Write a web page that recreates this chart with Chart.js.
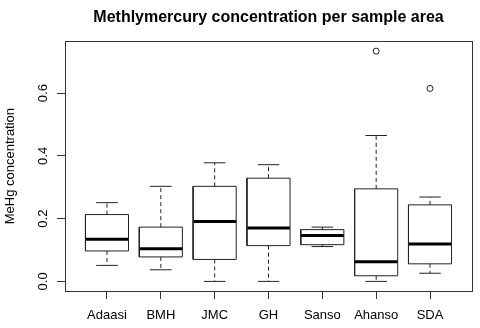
<!DOCTYPE html>
<html><head><meta charset="utf-8">
<script src="https://cdn.jsdelivr.net/npm/chart.js@4/dist/chart.umd.min.js"></script>
<style>html,body{margin:0;padding:0;background:#fff}</style>
</head><body>
<canvas id="c" width="480" height="328"></canvas>
<script>
const categories = ['Adaasi','BMH','JMC','GH','Sanso','Ahanso','SDA'];
const whiskerLow  = [0.051,0.037,0.000,0.000,0.111,0.000,0.026];
const q1          = [0.097,0.078,0.070,0.114,0.117,0.018,0.056];
const medians     = [0.134,0.104,0.191,0.170,0.146,0.063,0.119];
const q3          = [0.213,0.173,0.303,0.329,0.165,0.295,0.244];
const whiskerHigh = [0.251,0.303,0.378,0.372,0.173,0.465,0.269];
const outlierGroups = ['Ahanso','SDA'];
const outlierValues = [0.734,0.615];
const yTicks = [0, 0.2, 0.4, 0.6];
const yTickLabels = ['0.0','0.2','0.4','0.6'];

const BOX_HALF = 0.4, CAP_HALF = 0.2;
const LINE = '#222';
const gap = x => ({x: x, y: null});

const boxPts = [], medPts = [], whiskPts = [], capPts = [];
categories.forEach((c, i) => {
  const x = i + 1;
  boxPts.push({x:x-BOX_HALF,y:q1[i]},{x:x+BOX_HALF,y:q1[i]},{x:x+BOX_HALF,y:q3[i]},{x:x-BOX_HALF,y:q3[i]},{x:x-BOX_HALF,y:q1[i]},gap(x));
  medPts.push({x:x-BOX_HALF,y:medians[i]},{x:x+BOX_HALF,y:medians[i]},gap(x));
  whiskPts.push({x:x,y:q3[i]},{x:x,y:whiskerHigh[i]},gap(x),{x:x,y:q1[i]},{x:x,y:whiskerLow[i]},gap(x));
  capPts.push({x:x-CAP_HALF,y:whiskerHigh[i]},{x:x+CAP_HALF,y:whiskerHigh[i]},gap(x),{x:x-CAP_HALF,y:whiskerLow[i]},{x:x+CAP_HALF,y:whiskerLow[i]},gap(x));
});
const outPts = outlierGroups.map((g, k) => ({x: categories.indexOf(g) + 1, y: outlierValues[k]}));

const lineDs = (data, width, dash, color) => ({
  type: 'scatter', data, showLine: true, spanGaps: false, borderColor: color || LINE,
  borderWidth: width, borderDash: dash || [], pointRadius: 0, fill: false, borderCapStyle: 'butt'
});

const frame = {
  id: 'frame',
  afterDatasetsDraw(chart) {
    const a = chart.chartArea, ctx = chart.ctx;
    ctx.save(); ctx.strokeStyle = '#333'; ctx.lineWidth = 1;
    ctx.strokeRect(Math.round(a.left)+0.5, Math.round(a.top)+0.5, Math.round(a.right-a.left), Math.round(a.bottom-a.top));
    ctx.restore();
  }
};

Chart.defaults.font.family = '"Liberation Sans", Arial, sans-serif';
Chart.defaults.color = '#000';

new Chart(document.getElementById('c'), {
  type: 'scatter',
  data: { datasets: [
    lineDs(whiskPts, 1, [4,3]),
    lineDs(capPts, 1),
    lineDs(boxPts, 1),
    lineDs(medPts, 3, [], '#000'),
    { type:'scatter', data: outPts, pointRadius: 3, pointStyle: 'circle', borderColor: LINE, borderWidth: 1, backgroundColor: 'rgba(0,0,0,0)' }
  ]},
  options: {
    responsive: false, animation: false,
    layout: { padding: { left: 0, right: 8, top: 0, bottom: 0 } },
    plugins: {
      legend: { display: false }, tooltip: { enabled: false },
      title: { display: true, text: 'Methlymercury concentration per sample area', fullSize: false,
        font: { size: 16, weight: 'bold' }, padding: { top: 8, bottom: 14 }, color: '#000' }
    },
    scales: {
      x: { type: 'linear', min: 0.22, max: 7.78,
        afterBuildTicks: s => { s.ticks = categories.map((c, i) => ({value: i + 1})); },
        afterFit: s => { s.height = 37; },
        ticks: { callback: (v, i) => categories[i], autoSkip: false, maxRotation: 0, font: { size: 13 }, padding: 9 },
        grid: { drawOnChartArea: false, drawTicks: true, tickLength: 8, color: '#333' },
        border: { display: true, color: '#333' }
      },
      y: { type: 'linear', min: -0.0306, max: 0.7656,
        afterBuildTicks: s => { s.ticks = yTicks.map(v => ({value: v})); },
        afterFit: s => { s.width = 65; },
        ticks: { callback: (v, i) => yTickLabels[i], minRotation: 90, maxRotation: 90, crossAlign: 'center', font: { size: 13 }, padding: 5 },
        grid: { drawOnChartArea: false, drawTicks: true, tickLength: 8, color: '#333' },
        border: { display: true, color: '#333' },
        title: { display: true, text: 'MeHg concentration', font: { size: 13 }, padding: { top: 3, bottom: 0 } }
      }
    }
  },
  plugins: [frame]
});
</script>
</body></html>
